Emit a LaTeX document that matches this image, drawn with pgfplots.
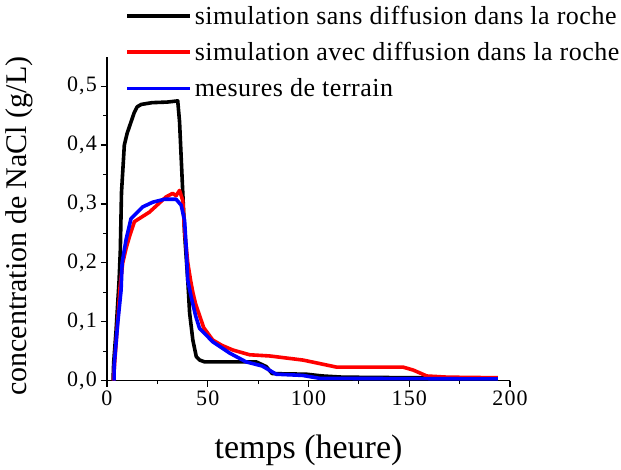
\documentclass[border=0pt]{standalone}
\usepackage{fontspec}
\setmainfont{Liberation Serif}
\newfontfamily\legfont[LetterSpace=2]{Liberation Serif}
\newfontfamily\tickfam[LetterSpace=5]{Liberation Serif}
\usepackage{pgfplots}
\pgfplotsset{compat=1.18}

\begin{document}
\begin{tikzpicture}
\begin{axis}[
    scale only axis,
    width=403pt, height=324pt,
    xmin=0, xmax=200,
    ymin=0, ymax=0.55,
    axis x line*=bottom, axis y line*=left,
    axis line style={-, line width=1.2pt},
    xtick={0,50,100,150,200}, minor x tick num=1,
    ytick={0,0.1,0.2,0.3,0.4,0.5}, minor y tick num=1,
    tick align=outside,
    major tick length=6pt, minor tick length=3.5pt,
    every tick/.style={black, line width=1.2pt},
    /pgf/number format/assume math mode=true,
    tick label style={font=\tickfam\fontsize{22}{26}\selectfont, inner sep=4pt},
    yticklabel style={/pgf/number format/.cd, use comma, fixed, fixed zerofill, precision=1},
    xticklabel style={/pgf/number format/.cd, fixed, precision=0},
    xlabel={temps (heure)},
    ylabel={concentration de NaCl (g/L)},
    xlabel style={at={(axis description cs:0.5,-0.214)}, anchor=center,
        font=\fontsize{34}{40}\selectfont},
    ylabel style={at={(axis description cs:-0.218,0.477)}, anchor=center,
        font=\fontsize{30}{35}\selectfont},
    legend style={at={(0.0447,1.163)}, anchor=north west, draw=none, fill=none,
        font=\legfont\fontsize{26}{31}\selectfont, inner sep=0pt,
        nodes={inner sep=2pt}, row sep=12.5pt, column sep=1pt},
    legend cell align=left,
    legend image code/.code={\draw[#1] (0pt,0pt) -- (63pt,0pt);},
    every axis plot/.append style={line width=3.6pt, line join=round},
    clip=false,
]

% simulation sans diffusion dans la roche
\addplot[black] coordinates {
(3,0) (3.3,0.03) (4.5,0.085) (6,0.17) (6.6,0.22) (7.2,0.32) (8.6,0.40)
(10,0.42) (12,0.44) (13.5,0.455) (15,0.465) (17,0.469) (22.4,0.472) (30,0.473)
(35.1,0.475) (36,0.44) (36.8,0.38) (37.6,0.32) (38.5,0.25) (40.1,0.17)
(41,0.115) (42.6,0.069) (44.3,0.041) (46,0.035) (48.4,0.032) (74,0.032)
(79,0.024) (82,0.012) (99,0.011) (107,0.008) (117,0.006) (152,0.005) (194,0.004)
};
\addlegendentry{simulation sans diffusion dans la roche}

% simulation avec diffusion dans la roche
\addplot[red] coordinates {
(3.2,0) (4,0.04) (5.3,0.1) (6.5,0.16) (7.8,0.2) (9.5,0.225) (11.1,0.244)
(13.6,0.27) (21,0.286) (29.3,0.312) (32.6,0.318) (34.3,0.314) (36,0.323)
(37.6,0.306) (38.5,0.255) (40.1,0.2) (41.5,0.17) (42.6,0.15) (44,0.13)
(46,0.11) (48,0.09) (52.5,0.069) (57,0.06) (62.5,0.052) (70.8,0.044)
(80.7,0.042) (97.3,0.035) (114,0.023) (147,0.023) (152,0.018) (158.7,0.008)
(169,0.006) (194,0.005)
};
\addlegendentry{simulation avec diffusion dans la roche}

% mesures de terrain
\addplot[blue] coordinates {
(3.5,0) (3.6,0.027) (5.3,0.097) (7,0.154) (7.5,0.2) (9.5,0.24) (11.9,0.275)
(17.7,0.295) (22.7,0.303) (28.5,0.308) (34.3,0.308) (36.8,0.298) (38.5,0.272)
(39.3,0.227) (40.1,0.17) (41.8,0.142) (44,0.11) (45.9,0.089) (52.5,0.066)
(60.8,0.047) (69,0.032) (77,0.025) (84,0.011) (97,0.009) (105.6,0.004) (194,0.003)
};
\addlegendentry{mesures de terrain}

\end{axis}
\pgfresetboundingbox
\path[use as bounding box] ([shift={(-107pt,-89.3pt)}]current axis.south west)
    rectangle ([shift={(514pt,380.7pt)}]current axis.south west);
\end{tikzpicture}
\end{document}
